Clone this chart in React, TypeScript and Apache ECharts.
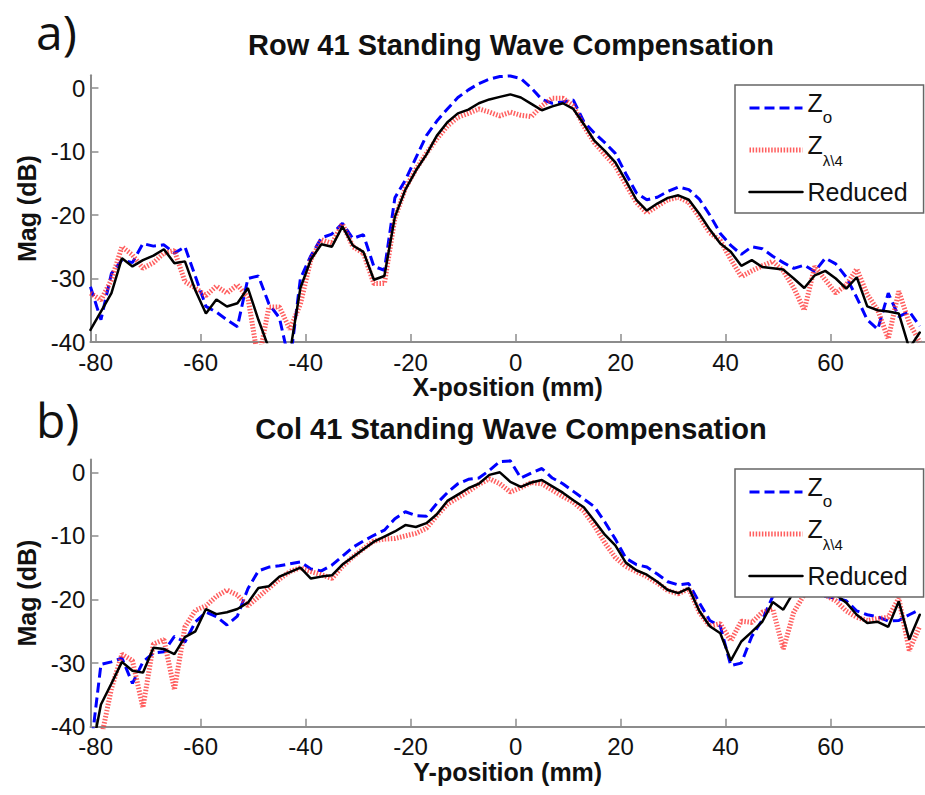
import React, { useEffect, useRef } from "react";
import * as echarts from "echarts";

// Positions (mm) of the sampled points along the row / column
const POSITIONS = [
  -81, -79, -77, -75, -73, -71, -69, -67, -65, -63,
  -61, -59, -57, -55, -53, -51, -49, -47, -45, -43,
  -41, -39, -37, -35, -33, -31, -29, -27, -25, -23,
  -21, -19, -17, -15, -13, -11, -9, -7, -5, -3,
  -1, 1, 3, 5, 7, 9, 11, 13, 15, 17,
  19, 21, 23, 25, 27, 29, 31, 33, 35, 37,
  39, 41, 43, 45, 47, 49, 51, 53, 55, 57,
  59, 61, 63, 65, 67, 69, 71, 73, 75, 77,
];

// a) Row 41 (dB)
const ROW_ZO = [
  -31.3, -36.5, -29.2, -27.1, -27.5, -24.5, -24.9, -24.7, -26, -25,
  -29.7, -34.4, -35.3, -36.5, -37.6, -30, -29.6, -34, -36.2, -43.5,
  -30, -26.4, -23.6, -23, -21.3, -23.7, -23.1, -28.1, -28.7, -17.3,
  -14.5, -11, -7.5, -5.2, -3.3, -1.5, -0.3, 0.7, 1.4, 1.8,
  1.9, 1.5, 0.0, -1.8, -2.4, -2.2, -1.9, -5.3, -7.1, -8.6,
  -10.3, -13.5, -16.5, -17.6, -17.2, -16.3, -15.6, -16, -17.5, -20,
  -22.9, -24.8, -26.2, -25, -25.3, -26.5, -27.5, -28.4, -27.9, -28.9,
  -26.8, -27.7, -29.8, -33, -36.5, -38, -32.3, -36, -35.2, -37.5,
];
const ROW_ZL4 = [
  -32.3, -33.4, -30.2, -25, -26.3, -28.4, -27.5, -26, -25.6, -30.5,
  -31.5, -32.7, -31.2, -32.3, -31, -33, -43, -34.5, -34.5, -38,
  -34, -27, -23.9, -24.5, -21.4, -25, -26, -30.8, -30.8, -20.5,
  -15.8, -12.8, -10.3, -8, -6, -4.6, -4.0, -3.3, -3.8, -4.4,
  -3.8, -4.3, -4.5, -2.8, -1.6, -1.6, -2.8, -6, -8.6, -10.5,
  -12.3, -15.2, -18, -19.7, -18.6, -17.6, -17.2, -18, -20.3, -22.8,
  -24, -27, -29.7, -28.8, -28, -27.3, -28.8, -31.5, -35, -28.1,
  -30.2, -32.3, -31, -28.5, -32.5, -35, -39.5, -32, -37, -40,
];
const ROW_REDUCED = [
  -38.1, -35.2, -32.3, -26.8, -28.1, -27.1, -26.4, -25.4, -27.6, -27.3,
  -31.9, -35.5, -33.3, -34.4, -33.9, -31.5, -36.5, -41, -46, -41.7,
  -31.5, -27, -24.6, -25, -21.8, -24.8, -25.8, -30.2, -29.6, -20.3,
  -16, -13, -10.5, -7.5, -5.4, -4.0, -3.4, -2.4, -1.8, -1.4,
  -1.0, -1.5, -2.5, -3.5, -2.9, -2.4, -3.3, -5.7, -8.3, -9.9,
  -11.7, -14.6, -17.6, -19.3, -18.2, -17.3, -16.9, -17.6, -19.8, -22.3,
  -24.5, -25.8, -28, -27.1, -28.2, -28.4, -28.6, -30, -31.5, -29.5,
  -28.8, -30, -31.6, -29.8, -34.4, -35, -35.2, -35.5, -41, -38.5,
];

// b) Col 41 (dB)
const COL_ZO = [
  -44, -30.2, -29.8, -29.2, -33.2, -29.8, -28.4, -28.2, -25.8, -26.7,
  -23.5, -22, -22.7, -24, -22.6, -18.3, -15.5, -14.9, -14.7, -14.4,
  -14.1, -15.2, -15.5, -14.6, -13.2, -11.8, -10.8, -9.9, -9.1, -7.3,
  -6.2, -6.8, -6.9, -4.9, -3.2, -1.8, -1.1, -0.9, 0.3, 1.7,
  1.8, -0.9, -0.1, 0.6, -0.9, -1.8, -3.0, -4.2, -5.4, -7.8,
  -10.5, -13.5, -14.5, -14.9, -16, -17.2, -17.7, -17.5, -20.5, -23.3,
  -24.2, -30.4, -30, -25.8, -23.2, -19.5, -18.8, -18.8, -19, -19.3,
  -19.5, -19.8, -20.2, -21.8, -22.4, -22.7, -23.4, -23.3, -22.4, -21.6,
];
const COL_ZL4 = [
  -50, -42, -34, -28.6, -29.6, -37, -27, -26.3, -34.2, -24.3,
  -21.7, -21, -19.5, -18.5, -19.3, -21, -19.6, -18.2, -16.8, -15.6,
  -15, -15.6, -16.1, -16.7, -14.8, -13.3, -12, -10.8, -10.5, -10.4,
  -10, -9.6, -8.8, -6.8, -5, -4, -3, -1.9, -1, -1.8,
  -3.1, -2.4, -1.6, -1.8, -2.8, -3.8, -4.7, -6.1, -8.4, -11.1,
  -13.4, -14.8, -15.6, -16.4, -17.4, -18.6, -19.1, -18.3, -22, -24.2,
  -23.8, -26.5, -23.4, -23.6, -22, -21.5, -27.8, -22, -19.2, -18.6,
  -19.3, -20.2, -21.8, -22.8, -23.3, -23, -22.8, -19.8, -28, -24.2,
];
const COL_REDUCED = [
  -45, -36.5, -33.2, -29.8, -31.2, -31.5, -27.6, -27.8, -28.6, -25.9,
  -25, -21.5, -22.3, -22, -21.5, -20.5, -18.2, -17.9, -16.4, -15.7,
  -15, -16.7, -16.4, -16.2, -14.5, -13.3, -12.1, -10.9, -10.1, -9.3,
  -8.3, -8.6, -8.0, -6.6, -4.5, -3.5, -2.5, -1.8, -0.4, 0.0,
  -1.5, -2.3, -1.6, -1.2, -2.2, -3.2, -4.4, -5.5, -7.6, -9.8,
  -11.5, -14.2, -15.4, -16.1, -17.2, -18.5, -19, -18.2, -21.8, -24.2,
  -25.3, -29.6, -26.6, -25.1, -23.5, -20.4, -21.6, -18.8, -18.5, -18.7,
  -19, -19.2, -20.5, -22.4, -23.7, -23.5, -24.3, -20.3, -26.3, -22.4,
];

const X_TICKS = [-80, -60, -40, -20, 0, 20, 40, 60];
const Y_TICKS = [-40, -30, -20, -10, 0];
const SERIES_NAMES = ["Zo", "Zl4", "Reduced"];
const TITLES = ["Row 41 Standing Wave Compensation", "Col 41 Standing Wave Compensation"];
const X_NAMES = ["X-position (mm)", "Y-position (mm)"];
const Y_NAME = "Mag (dB)";
const PANEL_LABELS = ["a)", "b)"];

const FONT = '"Liberation Sans", Arial, Helvetica, sans-serif';

const STYLES: Record<string, any> = {
  Zo: { color: "#0000ff", width: 3, type: [10, 5], cap: "butt", opacity: 1 },
  Zl4: { color: "#ff2a2a", width: 5, type: [1.5, 1.6], cap: "butt", opacity: 0.75 },
  Reduced: { color: "#000000", width: 2.5, type: "solid", cap: "round", opacity: 1 },
};

export default function App() {
  const ref = useRef<HTMLDivElement>(null);
  useEffect(() => {
    if (!ref.current) return;
    const chart = echarts.init(ref.current, undefined, { renderer: "svg" });
    const panels = [
      [ROW_ZO, ROW_ZL4, ROW_REDUCED],
      [COL_ZO, COL_ZL4, COL_REDUCED],
    ];
    const grids = [
      { left: 90.45, top: 75.3, width: 834.75, height: 266.7 },
      { left: 90.45, top: 459.6, width: 834.75, height: 267.1 },
    ];
    const axisColor = "#8c8c8c";
    const series: any[] = [];
    panels.forEach((vals, gi) => {
      SERIES_NAMES.forEach((name, si) => {
        const st = STYLES[name];
        series.push({
          type: "line",
          name,
          xAxisIndex: gi,
          yAxisIndex: gi,
          symbol: "none",
          clip: true,
          z: 2,
          itemStyle: { color: st.color },
          data: POSITIONS.map((x, i) => [x, vals[si][i]]),
          lineStyle: st,
        });
      });
    });
    const rich = {
      z: { fontSize: 25, lineHeight: 27, verticalAlign: "top", fontFamily: FONT, color: "#111" },
      s: { fontSize: 17, lineHeight: 12, verticalAlign: "bottom", fontFamily: FONT, color: "#111" },
      s2: { fontSize: 15, lineHeight: 12, verticalAlign: "bottom", fontFamily: FONT, color: "#111" },
      h: { fontSize: 10, fontFamily: FONT },
      r: { fontSize: 25, fontFamily: FONT, color: "#111" },
    };
    const option: any = {
      animation: false,
      backgroundColor: "#ffffff",
      grid: grids,
      xAxis: [0, 1].map((i) => ({
        type: "value",
        gridIndex: i,
        min: -81,
        max: 78,
        name: X_NAMES[i],
        nameLocation: "middle",
        nameGap: i === 0 ? 28 : 33,
        nameTextStyle: { fontSize: 25, fontWeight: "bold", color: "#111", fontFamily: FONT },
        axisLine: { show: true, onZero: false, lineStyle: { color: axisColor, width: 2 } },
        axisTick: { show: true, inside: true, length: 8, customValues: X_TICKS, lineStyle: { color: axisColor, width: 1.5 } },
        axisLabel: { customValues: X_TICKS, fontSize: 24, color: "#111", margin: 8, fontFamily: FONT },
        splitLine: { show: false },
      })),
      yAxis: [0, 1].map((i) => ({
        type: "value",
        gridIndex: i,
        min: -40,
        max: 2,
        name: Y_NAME,
        nameLocation: "middle",
        nameGap: 50,
        nameTextStyle: { fontSize: 25, fontWeight: "bold", color: "#111", fontFamily: FONT },
        axisLine: { show: true, onZero: false, lineStyle: { color: axisColor, width: 2 } },
        axisTick: { show: true, inside: true, length: 8, customValues: Y_TICKS, lineStyle: { color: axisColor, width: 1.5 } },
        axisLabel: { customValues: Y_TICKS, fontSize: 24, color: "#111", margin: 5, fontFamily: FONT },
        splitLine: { show: false },
      })),
      legend: [0, 1].map((i) => ({
        orient: "vertical",
        left: 735,
        top: i === 0 ? 85 : 469,
        z: 10,
        itemWidth: 53,
        itemHeight: 14,
        itemGap: 6,
        padding: [5, 16, 3, 12],
        borderColor: "#666",
        borderWidth: 1.5,
        backgroundColor: "#ffffff",
        selectedMode: false,
        data: SERIES_NAMES.map((n) => ({
          name: n,
          itemStyle: { opacity: 0, color: "rgba(0,0,0,0)", borderColor: "rgba(0,0,0,0)", borderWidth: 0 },
          lineStyle: { ...STYLES[n] },
        })),
        textStyle: { fontSize: 25, lineHeight: 36, color: "#111", fontFamily: FONT, rich },
        formatter: (name: string) =>
          name === "Zo" ? "{z|Z}{s|o}{h| }" : name === "Zl4" ? "{z|Z}{s2|λ\\4}{h| }" : "{r|Reduced}",
      })),
      graphic: [
        ...TITLES.map((t, i) => ({
          type: "text",
          x: 511,
          y: i === 0 ? 45 : 429,
          style: {
            text: t,
            font: `bold 29px ${FONT}`,
            fill: "#111",
            textAlign: "center",
            textVerticalAlign: "middle",
            align: "center",
            verticalAlign: "middle",
          },
        })),
        ...PANEL_LABELS.map((t, i) => ({
          type: "text",
          x: 36,
          y: i === 0 ? 31 : 419,
          style: {
            text: t,
            font: `48px "Open Sans", sans-serif`,
            fill: "#111",
            textAlign: "left",
            textVerticalAlign: "middle",
            align: "left",
            verticalAlign: "middle",
          },
        })),
      ],
      series,
    };
    chart.setOption(option);
    return () => chart.dispose();
  }, []);
  return (
    <div
      ref={ref}
      style={{ position: "fixed", left: 0, top: 0, width: 925, height: 795, background: "#fff" }}
    />
  );
}
